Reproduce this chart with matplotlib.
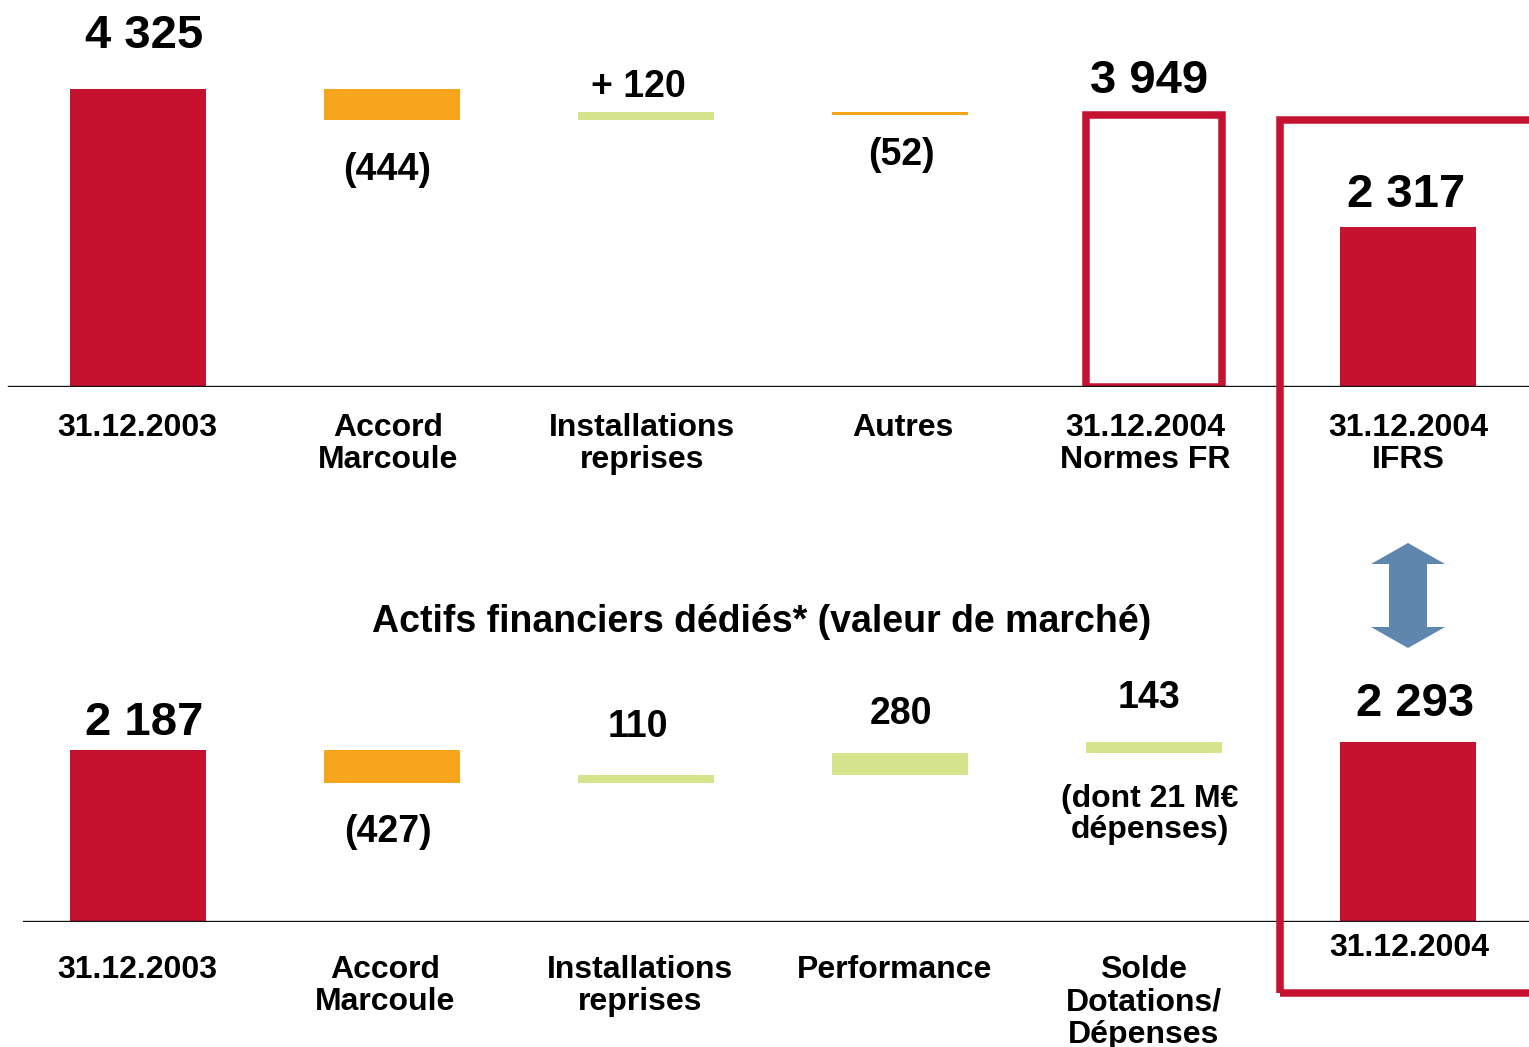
import matplotlib
matplotlib.use("Agg")
import matplotlib.pyplot as plt
from matplotlib.patches import Rectangle, Polygon

plt.rcParams['font.family'] = ['Liberation Sans', 'DejaVu Sans']
plt.rcParams['font.weight'] = 'bold'

# ---------------- data ----------------
top_categories = ["31.12.2003", "Accord\nMarcoule", "Installations\nreprises",
                  "Autres", "31.12.2004\nNormes FR", "31.12.2004\nIFRS"]
top_values = [4325, -444, 120, -52, 3949, 2317]
top_kinds = ["total", "delta", "delta", "delta", "outline", "total"]
top_labels = ["4 325", "(444)", "+ 120", "(52)", "3 949", "2 317"]

bot_categories = ["31.12.2003", "Accord\nMarcoule", "Installations\nreprises",
                  "Performance", "Solde\nDotations/\nDépenses", "31.12.2004"]
bot_values = [2187, -427, 110, 280, 143, 2293]
bot_kinds = ["total", "delta", "delta", "delta", "delta", "total"]
bot_labels = ["2 187", "(427)", "110", "280", "143", "2 293"]
bot_note = "(dont 21 M€\ndépenses)"
bot_note_index = 4

title = "Actifs financiers dédiés* (valeur de marché)"

# ---------------- style ----------------
RED = "#C41230"
ORANGE = "#F7A51D"
GREEN = "#D4E38C"
ARROW = "#5F86AC"
W, H, DPI = 1529, 1047, 100

# label offsets (pixels) from bar edge: (dx, dy)
top_lab_off = [(6, 41), (-5, 32), (-8, 15), (1, 22), (-5, 22), (-2, 20)]
bot_lab_off = [(6, 15), (-4, 31), (-8, 38), (1, 29), (-5, 34), (7, 26)]
top_cat_off = [(-1, 26), (-4, 26), (-4, 26), (3, 26), (-9, 26), (0, 26)]
bot_cat_off = [(-1, 33), (-7, 33), (-6, 33), (-5, 33), (-10, 33), (1, 12)]

fig = plt.figure(figsize=(W / DPI, H / DPI), dpi=DPI)

x_left = -138 / 254
x_right = (W - 138) / 254
bar_w = 136 / 254


def make_axes(base_px, top_px, scale):
    ax = fig.add_axes([0, (H - base_px) / H, 1, (base_px - top_px) / H])
    ax.set_xlim(x_left, x_right)
    ax.set_ylim(0, (base_px - top_px) * scale)
    ax.axis("off")
    ax.patch.set_visible(False)
    return ax


ax_top = make_axes(386.7, 0, 14.55)
ax_bot = make_axes(921.5, 640, 12.75)


def waterfall(ax, values, kinds, labels, lab_off, cats, cat_off, big=34, small=27):
    level = 0
    for i, (v, k, lab) in enumerate(zip(values, kinds, labels)):
        dx, dy = lab_off[i]
        if k in ("total", "outline"):
            level = v
            if k == "total":
                ax.bar(i, v, bottom=0, width=bar_w, color=RED, zorder=2)
            else:
                ax.bar(i, v, bottom=0, width=bar_w, facecolor="white",
                       edgecolor=RED, linewidth=5.4, zorder=2)
            ax.annotate(lab, (i, v), xytext=(dx, dy), textcoords="offset pixels",
                        ha="center", va="baseline", fontsize=big, fontweight="bold",
                        annotation_clip=False)
        else:
            bottom = level
            level += v
            ax.bar(i, v, bottom=bottom, width=bar_w,
                   color=GREEN if v > 0 else ORANGE, zorder=2)
            if v > 0:
                ax.annotate(lab, (i, level), xytext=(dx, dy), textcoords="offset pixels",
                            ha="center", va="baseline", fontsize=small, fontweight="bold",
                            annotation_clip=False)
            else:
                ax.annotate(lab, (i, level), xytext=(dx, -dy), textcoords="offset pixels",
                            ha="center", va="top", fontsize=small, fontweight="bold",
                            annotation_clip=False)
    for i, c in enumerate(cats):
        dx, dy = cat_off[i]
        ax.annotate(c, (i, 0), xytext=(dx, -dy), textcoords="offset pixels",
                    ha="center", va="top", fontsize=23, fontweight="bold",
                    linespacing=1.12, annotation_clip=False)


waterfall(ax_top, top_values, top_kinds, top_labels, top_lab_off, top_categories, top_cat_off)
waterfall(ax_bot, bot_values, bot_kinds, bot_labels, bot_lab_off, bot_categories, bot_cat_off)

# baselines
ax_top.axhline(0, xmin=9 / W, xmax=1, color="#111111", lw=1.7, zorder=3)
ax_bot.axhline(0, xmin=24 / W, xmax=1, color="#111111", lw=1.7, zorder=3)

# note under the "Solde" bar
lvl = sum(bot_values[:bot_note_index + 1])
ax_bot.annotate(bot_note, (bot_note_index, lvl - bot_values[bot_note_index]),
                xytext=(-4, -31), textcoords="offset pixels", ha="center", va="top",
                fontsize=23, fontweight="bold", linespacing=1.06, annotation_clip=False)

# title
fig.text(762 / W, 1 - 632 / H, title, ha="center", va="baseline",
         fontsize=27, fontweight="bold")

# big red frame around the IFRS column
frame = Rectangle((1279.5 / DPI, (H - 993) / DPI), 4.0, (993 - 120.5) / DPI,
                  transform=fig.dpi_scale_trans, fill=False, edgecolor=RED,
                  linewidth=5.4, zorder=5, clip_on=False)
fig.add_artist(frame)

# double-headed arrow
cx = 1408 / DPI
def yy(p):
    return (H - p) / DPI
sh, hh = 19 / DPI, 37 / DPI
pts = [(cx, yy(543)), (cx + hh, yy(564)), (cx + sh, yy(564)), (cx + sh, yy(627)),
       (cx + hh, yy(627)), (cx, yy(648)), (cx - hh, yy(627)), (cx - sh, yy(627)),
       (cx - sh, yy(564)), (cx - hh, yy(564))]
fig.add_artist(Polygon(pts, closed=True, transform=fig.dpi_scale_trans,
                       facecolor=ARROW, edgecolor="none"))

fig.savefig("out.png", dpi=DPI, facecolor="white")
